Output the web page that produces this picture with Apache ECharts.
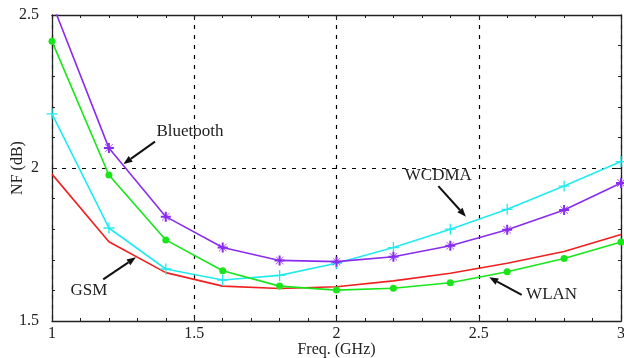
<!DOCTYPE html>
<html>
<head>
<meta charset="utf-8">
<script src="https://cdn.jsdelivr.net/npm/echarts@6/dist/echarts.min.js"></script>
<style>html,body{margin:0;padding:0;background:#fff}#c{width:624px;height:358px}</style>
</head>
<body>
<div id="c"></div>
<script>
const freq = [1.0, 1.2, 1.4, 1.6, 1.8, 2.0, 2.2, 2.4, 2.6, 2.8, 3.0];
const bluetooth = [2.54, 2.065, 1.841, 1.740, 1.698, 1.694, 1.710, 1.746, 1.798, 1.863, 1.951];
const wlan = [2.414, 1.977, 1.765, 1.664, 1.614, 1.601, 1.607, 1.625, 1.661, 1.704, 1.758];
const wcdma = [2.177, 1.804, 1.670, 1.634, 1.649, 1.689, 1.740, 1.800, 1.865, 1.941, 2.021];
const gsm = [1.980, 1.759, 1.658, 1.614, 1.606, 1.612, 1.631, 1.656, 1.689, 1.727, 1.783];
const xTicks = [1, 1.5, 2, 2.5, 3];
const yTicks = [1.5, 2, 2.5];
// annotations: label, text position, arrow tail, arrow head (data coords)
const notes = [
  {text: 'Bluetooth', pos: [1.485, 2.118], tail: [1.362, 2.086], head: [1.251, 2.013]},
  {text: 'GSM', pos: [1.130, 1.598], tail: [1.180, 1.636], head: [1.295, 1.708]},
  {text: 'WCDMA', pos: [2.358, 1.977], tail: [2.358, 1.941], head: [2.455, 1.841]},
  {text: 'WLAN', pos: [2.756, 1.585], tail: [2.651, 1.585], head: [2.537, 1.643]}
];

const FONT = 'Liberation Serif';
const pair = (ys) => freq.map((x, i) => [x, ys[i]]);
const plusSym = 'path://M0.44,0 H0.56 V0.44 H1 V0.56 H0.56 V1 H0.44 V0.56 H0 V0.44 H0.44 Z';
const astSym = 'path://M0.4,0 H0.6 V0.36 L0.86,0.1 L0.9,0.14 L0.64,0.4 H1 V0.6 H0.64 L0.9,0.86 L0.86,0.9 L0.6,0.64 V1 H0.4 V0.64 L0.14,0.9 L0.1,0.86 L0.36,0.6 H0 V0.4 H0.36 L0.1,0.14 L0.14,0.1 L0.4,0.36 Z';

const chart = echarts.init(document.getElementById('c'), null, {renderer: 'canvas'});
const axisCommon = {
  axisLine: {show: true, onZero: false, lineStyle: {color: '#222', width: 1.3}},
  axisTick: {show: true, inside: true, length: 5, lineStyle: {color: '#222'}},
  minorTick: {show: true, splitNumber: 5, length: 3, lineStyle: {color: '#222'}}
};
chart.setOption({
  animation: false,
  backgroundColor: '#fff',
  grid: {left: 52, right: 3, top: 15, bottom: 37, containLabel: false, outerBoundsMode: 'none'},
  xAxis: [{
    type: 'value', min: xTicks[0], max: xTicks[xTicks.length - 1], interval: 0.5,
    name: 'Freq. (GHz)', nameLocation: 'middle', nameGap: 21, nameMoveOverlap: false,
    nameTextStyle: {fontFamily: FONT, fontSize: 16, color: '#222'},
    axisLabel: {fontFamily: FONT, fontSize: 16, color: '#222', margin: 5},
    splitLine: {show: true, lineStyle: {color: '#000', type: [4, 6], width: 1.2}},
    ...axisCommon
  }, {
    type: 'value', position: 'top', min: xTicks[0], max: xTicks[xTicks.length - 1], interval: 0.5,
    axisLabel: {show: false}, splitLine: {show: false}, ...axisCommon
  }],
  yAxis: [{
    type: 'value', min: yTicks[0], max: yTicks[yTicks.length - 1], interval: 0.5,
    name: 'NF (dB)', nameLocation: 'middle', nameGap: 26, nameRotate: 90, nameMoveOverlap: false,
    nameTextStyle: {fontFamily: FONT, fontSize: 16, color: '#222'},
    axisLabel: {fontFamily: FONT, fontSize: 16, color: '#222', margin: 13},
    splitLine: {show: true, lineStyle: {color: '#000', type: [4, 6], width: 1.2}},
    ...axisCommon
  }, {
    type: 'value', position: 'right', min: yTicks[0], max: yTicks[yTicks.length - 1], interval: 0.5,
    axisLabel: {show: false}, splitLine: {show: false}, ...axisCommon
  }],
  series: [
    {type: 'line', name: 'GSM', data: pair(gsm), showSymbol: false, symbol: 'none',
     lineStyle: {color: '#f02020', width: 1.6}, clip: true, z: 3},
    {type: 'line', name: 'WCDMA', data: pair(wcdma), symbol: plusSym, symbolSize: 11,
     itemStyle: {color: '#22eaf0'}, lineStyle: {color: '#22eaf0', width: 1.6}, clip: true, z: 4},
    {type: 'line', name: 'WLAN', data: pair(wlan), symbol: 'circle', symbolSize: 7,
     itemStyle: {color: '#19e619'}, lineStyle: {color: '#19e619', width: 1.6}, clip: true, z: 5},
    {type: 'line', name: 'Bluetooth', data: pair(bluetooth), symbol: astSym, symbolSize: 10,
     itemStyle: {color: '#8a2cf0'}, lineStyle: {color: '#8a2cf0', width: 1.6}, clip: true, z: 6}
  ]
});

const g = [];
notes.forEach(n => {
  const p = chart.convertToPixel({xAxisIndex: 0, yAxisIndex: 0}, n.pos);
  const t = chart.convertToPixel({xAxisIndex: 0, yAxisIndex: 0}, n.tail);
  const h = chart.convertToPixel({xAxisIndex: 0, yAxisIndex: 0}, n.head);
  g.push({type: 'text', x: p[0], y: p[1], z: 20,
    style: {text: n.text, fontFamily: FONT, fontSize: 17, fill: '#222', align: 'center', verticalAlign: 'middle'}});
  const dx = h[0] - t[0], dy = h[1] - t[1];
  const L = Math.sqrt(dx * dx + dy * dy), ux = dx / L, uy = dy / L;
  const hl = 9, hw = 3.5;
  const bx = h[0] - ux * hl, by = h[1] - uy * hl;
  g.push({type: 'line', z: 20, shape: {x1: t[0], y1: t[1], x2: bx, y2: by},
    style: {stroke: '#111', lineWidth: 2}});
  g.push({type: 'polygon', z: 20, shape: {points: [[h[0], h[1]], [bx - uy * hw, by + ux * hw], [bx + uy * hw, by - ux * hw]]},
    style: {fill: '#111'}});
});
chart.setOption({graphic: g});
</script>
</body>
</html>
